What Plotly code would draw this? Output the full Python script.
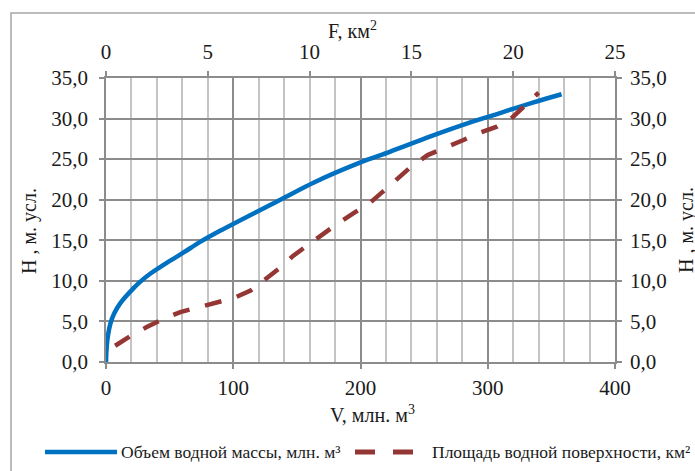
import plotly.graph_objects as go

# Объем водной массы: V (млн. м3) against H (м усл.)
vol_v = [0, 0.4, 1.3, 3.4, 6.5, 11, 21.7, 27, 35, 48, 61, 74, 90, 137, 163, 200, 223, 255, 284, 304, 336, 358]
vol_h = [0, 1.5, 3.0, 4.7, 6.0, 7.2, 9.1, 9.9, 10.9, 12.25, 13.5, 14.8, 16.2, 20.0, 22.1, 24.6, 25.9, 27.8, 29.4, 30.4, 32.0, 33.0]

# Площадь водной поверхности: F (км2) against H (м усл.)
area_f = [0.45, 1.2, 2.0, 2.8, 3.65, 4.55, 5.45, 6.3, 7.1, 7.8, 8.6, 9.2, 10.0, 10.7, 11.4, 12.2, 13.0, 13.6, 14.4, 15.0, 15.8, 16.6, 17.5, 18.2, 19.2, 19.9, 20.6, 21.25]
area_h = [2.0, 3.2, 4.3, 5.3, 6.15, 6.7, 7.3, 7.9, 8.8, 10.1, 11.7, 13.1, 14.6, 15.8, 17.1, 18.4, 19.7, 21.0, 22.7, 24.1, 25.5, 26.3, 27.3, 28.1, 29.0, 30.0, 31.6, 33.2]

v_ticks = [0, 100, 200, 300, 400]
f_ticks = [0, 5, 10, 15, 20, 25]
h_ticks = [0, 5, 10, 15, 20, 25, 30, 35]

W, H = 695, 471
ML, MR, MT, MB = 106, 80, 78, 109
PW, PH = W - ML - MR, H - MT - MB

def px(x):
    return (x - ML) / PW

def py(y):
    return (H - MB - y) / PH

BLUE = "#0070C0"
RED = "#943634"
GRID_MAJOR = "#8c8c8c"
GRID_MINOR = "#c4c4c4"
FONT = "Liberation Serif"
TXT = "#1a1a1a"

fig = go.Figure()
fig.add_trace(go.Scatter(x=vol_v, y=vol_h, mode="lines", name="Объем водной массы, млн. м³",
                         line=dict(color=BLUE, width=4.5, shape="spline", smoothing=0.8),
                         xaxis="x", yaxis="y"))
fig.add_trace(go.Scatter(x=area_f, y=area_h, mode="lines", name="Площадь водной поверхности, км²",
                         line=dict(color=RED, width=4.5, dash="17px,16px"),
                         xaxis="x2", yaxis="y"))
# invisible trace to bring up the right-hand H axis
fig.add_trace(go.Scatter(x=[0], y=[0], mode="markers", marker=dict(opacity=0), hoverinfo="skip",
                         xaxis="x", yaxis="y2", showlegend=False))

tick_common = dict(ticks="outside", ticklen=5, tickwidth=1.5, tickcolor=GRID_MAJOR,
                   tickfont=dict(family=FONT, size=21, color=TXT),
                   showline=True, linecolor=GRID_MAJOR, linewidth=1.5, zeroline=False)

fig.update_layout(
    width=W, height=H,
    margin=dict(l=ML, r=MR, t=MT, b=MB),
    paper_bgcolor="white", plot_bgcolor="white",
    separators=", ",
    showlegend=False,
    xaxis=dict(range=[0, 400], tickvals=v_ticks, showgrid=True, gridcolor=GRID_MAJOR, gridwidth=1.5,
               minor=dict(dtick=20, showgrid=True, gridcolor=GRID_MINOR, gridwidth=2, ticks=""),
               ticklabelstandoff=1, **tick_common),
    xaxis2=dict(range=[0, 25], tickvals=f_ticks, overlaying="x", side="top", showgrid=False,
                ticklabelstandoff=4, **tick_common),
    yaxis=dict(range=[0, 35], tickvals=h_ticks, tickformat=".1f", showgrid=True,
               gridcolor=GRID_MAJOR, gridwidth=1.5, ticklabelstandoff=7, **tick_common),
    yaxis2=dict(range=[0, 35], tickvals=h_ticks, tickformat=".1f", overlaying="y", side="right",
                showgrid=False, ticklabelstandoff=4, **tick_common),
)

ann = dict(xref="paper", yref="paper", showarrow=False, xanchor="center", yanchor="middle",
           font=dict(family=FONT, size=20, color=TXT))
fig.add_annotation(x=px(29), y=py(231), text="Н , м. усл.", textangle=-90, **ann)
fig.add_annotation(x=px(686), y=py(230), text="Н , м. усл.", textangle=-90, **ann)
fig.add_annotation(x=px(372), y=py(414), text="V, млн. м<sup>3</sup>", **ann)
fig.add_annotation(x=px(352), y=py(30), text="F, км<sup>2</sup>", **ann)

# legend drawn along the bottom of the chart
leg = dict(xref="paper", yref="paper", showarrow=False, xanchor="left", yanchor="middle",
           font=dict(family=FONT, size=17.5, color=TXT))
fig.add_shape(type="line", xref="paper", yref="paper", x0=px(45), x1=px(117), y0=py(452), y1=py(452),
              line=dict(color=BLUE, width=4.5))
fig.add_annotation(x=px(119), y=py(452), text="Объем водной массы, млн. м³", **leg)
fig.add_shape(type="line", xref="paper", yref="paper", x0=px(355), x1=px(413), y0=py(452), y1=py(452),
              line=dict(color=RED, width=5, dash="20px,18px"))
fig.add_annotation(x=px(430), y=py(452), text="Площадь водной поверхности, км²", **leg)

# chart frame
fig.add_shape(type="rect", xref="paper", yref="paper", x0=px(11), x1=px(720), y0=py(13), y1=py(490),
              line=dict(color="#a6a6a6", width=1.5), layer="below")

fig.write_html("out.html")
